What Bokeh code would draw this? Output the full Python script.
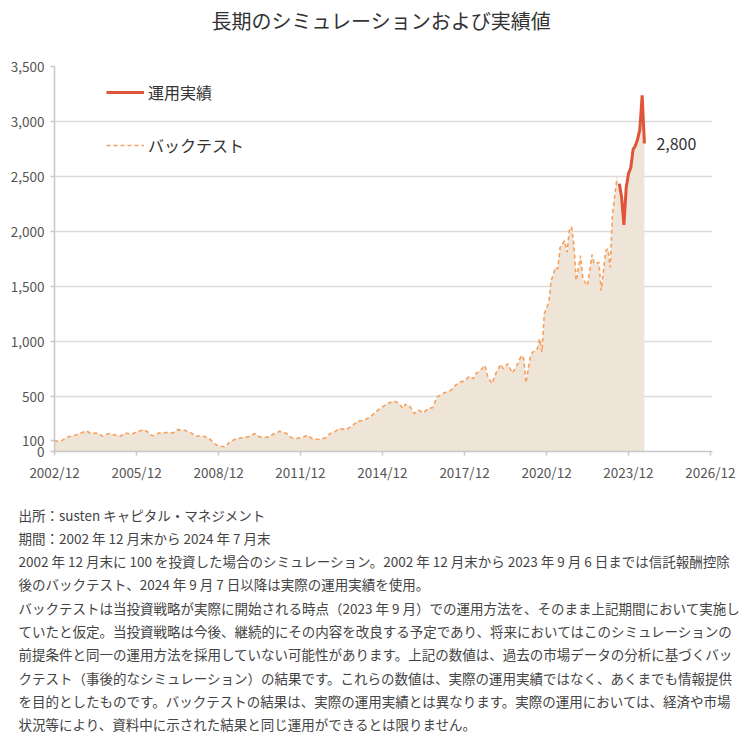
import pandas as pd
from bokeh.plotting import figure
from bokeh.layouts import column
from bokeh.models import (Range1d, FixedTicker, NumeralTickFormatter, DatetimeTickFormatter,
                          Legend, LegendItem, Label, ColumnDataSource)
from bokeh.embed import file_html
from bokeh.resources import INLINE

FONT = "Noto Sans CJK JP"

title_text = "長期のシミュレーションおよび実績値"

backtest_dates = [
    "2002-12", "2003-02", "2003-03", "2003-06", "2003-09", "2003-11", "2004-02", "2004-04",
    "2004-07", "2004-09", "2004-12", "2005-03", "2005-05", "2005-07", "2005-10", "2005-12",
    "2006-03", "2006-05", "2006-07", "2006-10", "2007-01", "2007-04", "2007-06", "2007-09",
    "2007-12", "2008-02", "2008-05", "2008-08", "2008-10", "2008-12", "2009-03", "2009-05",
    "2009-08", "2009-11", "2010-01", "2010-04", "2010-06", "2010-08", "2010-10", "2010-12",
    "2011-03", "2011-06", "2011-08", "2011-10", "2012-01", "2012-03", "2012-05", "2012-08",
    "2012-11", "2013-01", "2013-03", "2013-05", "2013-08", "2013-11", "2014-01", "2014-04",
    "2014-07", "2014-09", "2014-12", "2015-02", "2015-05", "2015-07", "2015-09", "2015-10",
    "2015-12", "2016-02", "2016-04", "2016-06", "2016-08", "2016-10", "2016-12", "2017-03",
    "2017-06", "2017-08", "2017-10", "2017-12", "2018-02", "2018-04", "2018-05", "2018-07",
    "2018-09", "2018-10", "2018-12", "2019-02", "2019-04", "2019-05", "2019-07", "2019-09",
    "2019-11", "2020-01", "2020-02", "2020-03", "2020-05", "2020-06", "2020-08", "2020-09",
    "2020-10", "2020-11", "2021-01", "2021-02", "2021-04", "2021-05", "2021-06", "2021-08",
    "2021-09", "2021-10", "2021-11", "2021-12", "2022-01", "2022-03", "2022-04", "2022-06",
    "2022-07", "2022-08", "2022-09", "2022-11", "2022-12", "2023-02", "2023-03", "2023-04",
    "2023-05", "2023-07",
]
backtest_values = [
    100, 88, 97, 133, 148, 163, 187, 163,
    169, 139, 163, 148, 139, 169, 157, 178,
    199, 178, 142, 169, 172, 169, 199, 193,
    169, 139, 142, 118, 73, 51, 42, 88,
    118, 127, 133, 163, 133, 127, 133, 157,
    184, 163, 127, 118, 127, 148, 118, 109,
    124, 163, 178, 208, 199, 239, 275, 284,
    320, 360, 405, 435, 459, 441, 390, 429,
    411, 345, 375, 351, 390, 399, 496, 532,
    556, 601, 632, 641, 683, 662, 707, 737,
    783, 692, 617, 722, 792, 753, 798, 713,
    783, 873, 843, 623, 873, 904, 934, 1025,
    904, 1251, 1357, 1553, 1674, 1659, 1856, 1916,
    1810, 2007, 2043, 1886, 1553, 1780, 1569, 1508,
    1644, 1789, 1705, 1720, 1463, 1826, 1841, 1674,
    2158, 2490,
]

actual_dates = [
    "2023-08", "2023-09", "2023-10", "2023-11", "2023-12", "2024-01",
    "2024-02", "2024-03", "2024-04", "2024-05", "2024-06", "2024-07",
]
actual_values = [2435, 2308, 2061, 2399, 2526, 2580, 2747, 2777, 2838, 2929, 3237, 2800]

x_tick_labels = ["2002/12", "2005/12", "2008/12", "2011/12", "2014/12",
                 "2017/12", "2020/12", "2023/12", "2026/12"]
y_ticks = [0, 100, 500, 1000, 1500, 2000, 2500, 3000, 3500]
y_grid = [500, 1000, 1500, 2000, 2500, 3000, 3500]

legend_labels = ["運用実績", "バックテスト"]

notes = [
    "出所：susten キャピタル・マネジメント",
    "期間：2002 年 12 月末から 2024 年 7 月末",
    "2002 年 12 月末に 100 を投資した場合のシミュレーション。2002 年 12 月末から 2023 年 9 月 6 日までは信託報酬控除",
    "後のバックテスト、2024 年 9 月 7 日以降は実際の運用実績を使用。",
    "バックテストは当投資戦略が実際に開始される時点（2023 年 9 月）での運用方法を、そのまま上記期間において実施し",
    "ていたと仮定。当投資戦略は今後、継続的にその内容を改良する予定であり、将来においてはこのシミュレーションの",
    "前提条件と同一の運用方法を採用していない可能性があります。上記の数値は、過去の市場データの分析に基づくバッ",
    "クテスト（事後的なシミュレーション）の結果です。これらの数値は、実際の運用実績ではなく、あくまでも情報提供",
    "を目的としたものです。バックテストの結果は、実際の運用実績とは異なります。実際の運用においては、経済や市場",
    "状況等により、資料中に示された結果と同じ運用ができるとは限りません。",
]

# ---------------------------------------------------------------
W = 745
H_TITLE = 46
H_CHART = 444
H_NOTES = 250


def blank_figure(height):
    f = figure(width=W, height=height, x_range=Range1d(0, 1), y_range=Range1d(0, 1),
               output_backend="svg", toolbar_location=None, title=None,
               x_axis_location=None, y_axis_location=None, min_border=0)
    f.outline_line_color = None
    f.xgrid.visible = False
    f.ygrid.visible = False
    f.frame_align = False
    return f


# title figure
t = blank_figure(H_TITLE)
t.add_layout(Label(x=381, y=H_TITLE - 20, x_units="screen", y_units="screen",
                   text=title_text, text_align="center", text_baseline="middle",
                   text_font=FONT, text_font_size="20px", text_color="#333333"))

bt_x = pd.to_datetime(backtest_dates, format="%Y-%m")
ac_x = pd.to_datetime(actual_dates, format="%Y-%m")
tick_x = pd.to_datetime(x_tick_labels, format="%Y/%m")
tick_ms = [int(t_.value // 10**6) for t_ in tick_x]

x_start = tick_x[0]
x_end = tick_x[-1] + pd.Timedelta(days=27)

p = figure(width=W, height=H_CHART, x_axis_type="datetime",
           x_range=Range1d(x_start, x_end), y_range=Range1d(0, 3500),
           output_backend="svg", toolbar_location=None, title=None,
           min_border_left=54, min_border_right=W - 712, min_border_top=66 - H_TITLE,
           min_border_bottom=H_TITLE + H_CHART - 451)
p.frame_align = False
p.outline_line_color = None
p.background_fill_color = "white"
p.border_fill_color = "white"

area_x = list(bt_x) + list(ac_x)
area_y = backtest_values + actual_values
p.varea(x=area_x, y1=0, y2=area_y, fill_color="#EFE4D8", fill_alpha=1.0)

bt_src = ColumnDataSource(dict(x=bt_x, y=backtest_values))
ac_src = ColumnDataSource(dict(x=ac_x, y=actual_values))
r_bt = p.line("x", "y", source=bt_src, line_color="#F7A05C", line_width=1.6,
              line_dash="4 3")
r_ac = p.line("x", "y", source=ac_src, line_color="#E0553A", line_width=3)

# axes
p.xgrid.visible = False
p.ygrid.ticker = FixedTicker(ticks=y_grid)
p.ygrid.grid_line_color = "#DCDCDC"
p.ygrid.grid_line_width = 1.5

p.yaxis.ticker = FixedTicker(ticks=y_ticks)
p.yaxis.formatter = NumeralTickFormatter(format="0,0")
p.xaxis.ticker = FixedTicker(ticks=tick_ms)
p.xaxis.formatter = DatetimeTickFormatter(years="%Y/%m", months="%Y/%m", days="%Y/%m",
                                          strip_leading_zeros=False)
for ax in (p.xaxis[0], p.yaxis[0]):
    ax.axis_line_color = "#C8C8C8"
    ax.axis_line_width = 1.5
    ax.major_tick_line_color = "#C8C8C8"
    ax.major_tick_line_width = 1.5
    ax.major_tick_out = 4
    ax.major_tick_in = 0
    ax.minor_tick_line_color = None
    ax.major_label_text_font = FONT
    ax.major_label_text_font_size = "13.5px"
    ax.major_label_text_color = "#555555"
p.yaxis.major_label_standoff = 6
p.xaxis.major_label_standoff = 6

legend = Legend(items=[LegendItem(label=legend_labels[0], renderers=[r_ac]),
                       LegendItem(label=legend_labels[1], renderers=[r_bt])],
                location=(52, 294), orientation="vertical",
                glyph_width=38, glyph_height=22, label_height=22,
                label_standoff=4, spacing=29, padding=0, margin=0,
                border_line_color=None, background_fill_alpha=0,
                label_text_font=FONT, label_text_font_size="16px",
                label_text_color="#333333")
p.add_layout(legend)

# end label
p.add_layout(Label(x=ac_x[-1], y=actual_values[-1], text=f"{actual_values[-1]:,}",
                   x_offset=12, text_baseline="middle", text_font=FONT,
                   text_font_size="16px", text_color="#333333"))

# notes figure
n = blank_figure(H_NOTES)
for i, line in enumerate(notes):
    n.add_layout(Label(x=18, y=H_NOTES - 24 - 23.3 * i, x_units="screen", y_units="screen",
                       text=line, text_align="left", text_baseline="middle",
                       text_font=FONT, text_font_size="13.5px", text_color="#444444"))

layout = column(t, p, n, spacing=0)
open("out.html", "w").write(file_html(layout, INLINE))
